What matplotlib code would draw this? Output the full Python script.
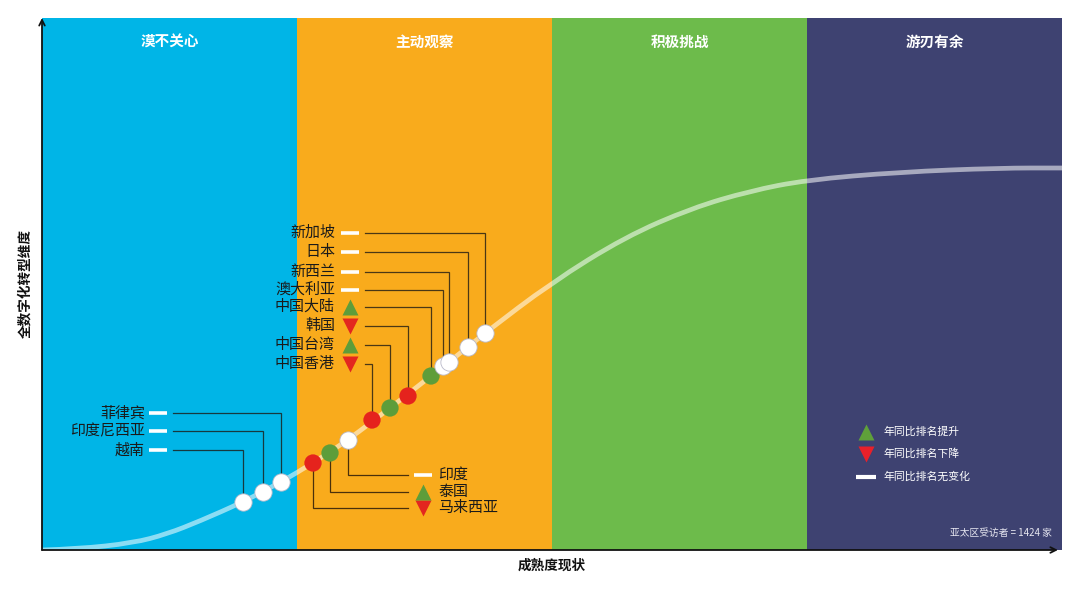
import matplotlib
matplotlib.use('Agg')
import matplotlib.pyplot as plt
from matplotlib.path import Path
from matplotlib.patches import PathPatch

plt.rcParams['font.family'] = ['Noto Sans CJK SC', 'DejaVu Sans']

# ---------------- data ----------------
stages = ['漠不关心', '主动观察', '积极挑战', '游刃有余']
stage_colors = ['#00b5e7', '#f9ab1c', '#6dbb4b', '#3e4271']

# S-curve (maturity vs. digital dimension)
curve_x = [0, 35, 91, 125, 158, 201, 239, 271, 306, 348, 389, 426, 443,
           509, 583, 650, 708, 764, 858, 958, 1020]
curve_y = [0, 1, 7, 16, 29, 48, 68, 87, 110, 142, 174, 203, 217,
           267, 313, 342, 359, 370, 378, 382, 382]

countries = ['越南', '印度尼西亚', '菲律宾', '马来西亚', '泰国', '印度',
             '中国香港', '中国台湾', '韩国', '中国大陆', '澳大利亚',
             '新西兰', '日本', '新加坡']
maturity = [201, 221, 239, 271, 288, 306, 330, 348, 366, 389, 401, 407, 426, 443]
digital = [48, 58, 68, 87, 97, 110, 130, 142, 154, 174, 184, 188, 203, 217]
trend = ['same', 'same', 'same', 'down', 'up', 'same',
         'down', 'up', 'down', 'up', 'same', 'same', 'same', 'same']

legend_labels = ['年同比排名提升', '年同比排名下降', '年同比排名无变化']
legend_trends = ['up', 'down', 'same']
note = '亚太区受访者 = 1424 家'
x_label = '成熟度现状'
y_label = '全数字化转型维度'

# ---------------- layout ----------------
label_y = {'菲律宾': 137, '印度尼西亚': 119, '越南': 100,
           '新加坡': 317, '日本': 298, '新西兰': 278, '澳大利亚': 260,
           '中国大陆': 243, '韩国': 224, '中国台湾': 205, '中国香港': 186,
           '印度': 75, '泰国': 58, '马来西亚': 42}
group_of = {'菲律宾': 'L', '印度尼西亚': 'L', '越南': 'L',
            '印度': 'R', '泰国': 'R', '马来西亚': 'R'}
groups = {  # text_x, marker_x, line_x, text alignment
    'L': (103, 116, 131, 'right'),
    'U': (293, 308, 323, 'right'),
    'R': (396, 381, 366, 'left'),
}

marker_style = {'up': ('^', '#5e9d3a'), 'down': ('v', '#e3261f'),
                'same': ('_', 'white')}
dot_color = {'up': '#5e9d3a', 'down': '#e5231d', 'same': 'white'}

fig = plt.figure(figsize=(10.8, 5.89), dpi=100)
fig.patch.set_facecolor('white')
ax = fig.add_axes([42 / 1080, 39 / 589, 1020 / 1080, 532 / 589])
ax.set_xlim(0, 1020)
ax.set_ylim(0, 532)
ax.axis('off')

band_w = 1020 / len(stages)
for i, (s, c) in enumerate(zip(stages, stage_colors)):
    ax.axvspan(i * band_w, (i + 1) * band_w, color=c, lw=0, zorder=0)
    ax.text((i + 0.5) * band_w, 508, s, color='white', fontsize=10.5,
            fontweight='bold', ha='center', va='center', zorder=5)

# smooth S-curve through read points
pts = list(zip(curve_x, curve_y))
verts = [pts[0]]
codes = [Path.MOVETO]
for i in range(1, len(pts) - 1):
    mid = ((pts[i][0] + pts[i + 1][0]) / 2, (pts[i][1] + pts[i + 1][1]) / 2)
    verts += [pts[i], mid]
    codes += [Path.CURVE3, Path.CURVE3]
verts.append(pts[-1])
codes.append(Path.LINETO)
ax.add_patch(PathPatch(Path(verts, codes), facecolor='none',
                       edgecolor='white', lw=3.4, alpha=0.55, zorder=2,
                       capstyle='butt'))

# connectors, labels, markers
for name, mx, my, t in zip(countries, maturity, digital, trend):
    g = group_of.get(name, 'U')
    tx, kx, lx, ha = groups[g]
    ly = label_y[name]
    if g == 'R':
        ax.plot([mx, mx, lx], [my, ly, ly], color='#2b1a08', lw=0.9,
                alpha=0.85, zorder=3, solid_joinstyle='miter')
    else:
        ax.plot([lx, mx, mx], [ly, ly, my], color='#1e1a14', lw=0.9,
                alpha=0.8, zorder=3, solid_joinstyle='miter')
    m, c = marker_style[t]
    if t == 'same':
        ax.plot(kx, ly, marker='_', ms=13, mew=2.6, color='white', zorder=4)
    else:
        ax.plot(kx, ly, marker=m, ms=11, color=c, mec='none', zorder=4)
    ax.text(tx, ly, name, fontsize=10.8, ha=ha, va='center', color='#1a1a1a',
            zorder=5)
    ax.scatter(mx, my, s=155, color=dot_color[t],
               edgecolors='#b9b9c9' if t == 'same' else 'none',
               linewidths=0.6, zorder=6)

# legend in navy band
leg_x, leg_tx = 824, 842
leg_y = [118, 96, 73]
leg_colors = {'up': '#5fa03a', 'down': '#e8202a'}
for lab, t, yy in zip(legend_labels, legend_trends, leg_y):
    if t == 'same':
        ax.plot(leg_x, yy, marker='_', ms=14, mew=3, color='white', zorder=4)
    else:
        ax.plot(leg_x, yy, marker=marker_style[t][0], ms=12,
                color=leg_colors[t], mec='none', zorder=4)
    ax.text(leg_tx, yy, lab, fontsize=7.8, color='white', ha='left',
            va='center', zorder=5)
ax.text(1010, 17, note, fontsize=7, color='#e6e6f0', ha='right',
        va='center', zorder=5)

# axes arrows
ax.annotate('', xy=(0, 1.0), xytext=(0, 0), xycoords='axes fraction',
            arrowprops=dict(arrowstyle='->', lw=1.3, color='#111111',
                            shrinkA=0, shrinkB=0, mutation_scale=10),
            annotation_clip=False, zorder=10)
ax.annotate('', xy=(0.996, 0), xytext=(0, 0), xycoords='axes fraction',
            arrowprops=dict(arrowstyle='->', lw=1.3, color='#111111',
                            shrinkA=0, shrinkB=0, mutation_scale=10),
            annotation_clip=False, zorder=10)

ax.text(0.5, -0.03, x_label, transform=ax.transAxes, fontsize=9.8,
        fontweight='bold', ha='center', va='center', color='#111111')
ax.text(-0.016, 0.5, y_label, transform=ax.transAxes, fontsize=9.8,
        fontweight='bold', ha='center', va='center', rotation=90,
        color='#111111')

fig.savefig('out.png', dpi=100, facecolor='white')
